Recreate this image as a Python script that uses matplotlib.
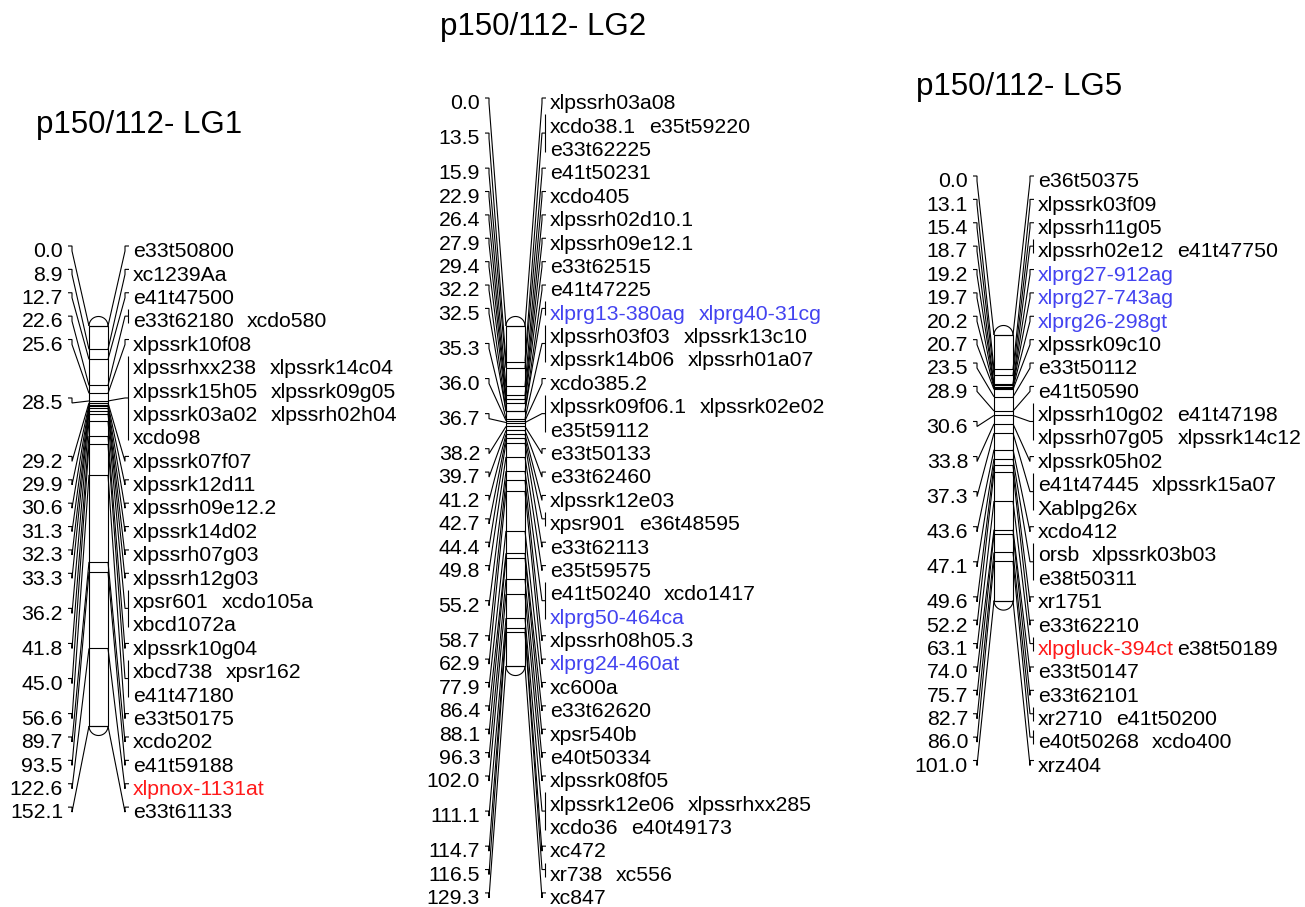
import numpy as np
import matplotlib
matplotlib.use("Agg")
import matplotlib.pyplot as plt
from matplotlib.patches import Rectangle

plt.rcParams['font.family'] = ['Liberation Sans', 'DejaVu Sans']

# ---------------- data ----------------
lg1_title = "p150/112- LG1"
lg1_pos = [0.0, 8.9, 12.7, 22.6, 25.6, 28.5, 29.2, 29.9, 30.6, 31.3, 32.3, 33.3,
           36.2, 41.8, 45.0, 56.6, 89.7, 93.5, 122.6, 152.1]
lg1_markers = [
    ["e33t50800"], ["xc1239Aa"], ["e41t47500"], ["e33t62180", "xcdo580"],
    ["xlpssrk10f08"],
    ["xlpssrhxx238", "xlpssrk14c04", "xlpssrk15h05", "xlpssrk09g05",
     "xlpssrk03a02", "xlpssrh02h04", "xcdo98"],
    ["xlpssrk07f07"], ["xlpssrk12d11"], ["xlpssrh09e12.2"], ["xlpssrk14d02"],
    ["xlpssrh07g03"], ["xlpssrh12g03"], ["xpsr601", "xcdo105a", "xbcd1072a"],
    ["xlpssrk10g04"], ["xbcd738", "xpsr162", "e41t47180"], ["e33t50175"],
    ["xcdo202"], ["e41t59188"], ["xlpnox-1131at"], ["e33t61133"],
]

lg2_title = "p150/112- LG2"
lg2_pos = [0.0, 13.5, 15.9, 22.9, 26.4, 27.9, 29.4, 32.2, 32.5, 35.3, 36.0, 36.7,
           38.2, 39.7, 41.2, 42.7, 44.4, 49.8, 55.2, 58.7, 62.9, 77.9, 86.4, 88.1,
           96.3, 102.0, 111.1, 114.7, 116.5, 129.3]
lg2_markers = [
    ["xlpssrh03a08"], ["xcdo38.1", "e35t59220", "e33t62225"], ["e41t50231"],
    ["xcdo405"], ["xlpssrh02d10.1"], ["xlpssrh09e12.1"], ["e33t62515"],
    ["e41t47225"], ["xlprg13-380ag", "xlprg40-31cg"],
    ["xlpssrh03f03", "xlpssrk13c10", "xlpssrk14b06", "xlpssrh01a07"],
    ["xcdo385.2"], ["xlpssrk09f06.1", "xlpssrk02e02", "e35t59112"],
    ["e33t50133"], ["e33t62460"], ["xlpssrk12e03"], ["xpsr901", "e36t48595"],
    ["e33t62113"], ["e35t59575"], ["e41t50240", "xcdo1417", "xlprg50-464ca"],
    ["xlpssrh08h05.3"], ["xlprg24-460at"], ["xc600a"], ["e33t62620"],
    ["xpsr540b"], ["e40t50334"], ["xlpssrk08f05"],
    ["xlpssrk12e06", "xlpssrhxx285", "xcdo36", "e40t49173"], ["xc472"],
    ["xr738", "xc556"], ["xc847"],
]

lg5_title = "p150/112- LG5"
lg5_pos = [0.0, 13.1, 15.4, 18.7, 19.2, 19.7, 20.2, 20.7, 23.5, 28.9, 30.6, 33.8,
           37.3, 43.6, 47.1, 49.6, 52.2, 63.1, 74.0, 75.7, 82.7, 86.0, 101.0]
lg5_markers = [
    ["e36t50375"], ["xlpssrk03f09"], ["xlpssrh11g05"], ["xlpssrh02e12", "e41t47750"],
    ["xlprg27-912ag"], ["xlprg27-743ag"], ["xlprg26-298gt"], ["xlpssrk09c10"],
    ["e33t50112"], ["e41t50590"],
    ["xlpssrh10g02", "e41t47198", "xlpssrh07g05", "xlpssrk14c12"],
    ["xlpssrk05h02"], ["e41t47445", "xlpssrk15a07", "Xablpg26x"], ["xcdo412"],
    ["orsb", "xlpssrk03b03", "e38t50311"], ["xr1751"], ["e33t62210"],
    ["xlpgluck-394ct", "e38t50189"], ["e33t50147"], ["e33t62101"],
    ["xr2710", "e41t50200"], ["e40t50268", "xcdo400"], ["xrz404"],
]

blue_markers = ["xlprg13-380ag", "xlprg40-31cg", "xlprg50-464ca", "xlprg24-460at",
                "xlprg27-912ag", "xlprg27-743ag", "xlprg26-298gt"]
red_markers = ["xlpnox-1131at", "xlpgluck-394ct"]

# ---------------- style / layout ----------------
W, H = 1305, 907
SCALE = 400.0 / 152.1      # px per cM
DY = 23.38                 # label row spacing (px)
BW = 19                    # bar width (px)
FS = 15.3
TFS = 22.5
LW = 0.8
BLUE = "#4343f0"
RED = "#ff1a1a"

layouts = [
    dict(title=lg1_title, pos=lg1_pos, markers=lg1_markers,
         bar_left=89, bar_top=326, row0=250, tx=36, ty=133),
    dict(title=lg2_title, pos=lg2_pos, markers=lg2_markers,
         bar_left=506, bar_top=326, row0=102, tx=440, ty=35),
    dict(title=lg5_title, pos=lg5_pos, markers=lg5_markers,
         bar_left=994, bar_top=335, row0=180, tx=916, ty=95),
]

fig = plt.figure(figsize=(W / 100, H / 100), dpi=100)
ax = fig.add_axes([0, 0, 1, 1])
ax.set_xlim(0, W)
ax.set_ylim(H, 0)
ax.axis("off")
renderer = fig.canvas.get_renderer()
inv = ax.transData.inverted()


def color_of(name):
    if name in blue_markers:
        return BLUE
    if name in red_markers:
        return RED
    return "black"


def line(xs, ys):
    ax.plot(xs, ys, color="black", lw=LW, solid_capstyle="butt",
            solid_joinstyle="miter")


def draw_lg(title, pos, markers, bar_left, bar_top, row0, tx, ty):
    br = bar_left + BW
    # rows of at most two markers
    rows = []
    for gi, ms in enumerate(markers):
        for k in range(0, len(ms), 2):
            rows.append((gi, ms[k:k + 2]))
    row_y = [row0 + i * DY for i in range(len(rows))]
    g_rows = {gi: [] for gi in range(len(pos))}
    for i, (gi, _) in enumerate(rows):
        g_rows[gi].append(row_y[i])

    # chromosome bar
    y_end = bar_top + max(pos) * SCALE
    ax.add_patch(Rectangle((bar_left, bar_top), BW, y_end - bar_top,
                           fill=False, lw=LW, ec="black"))
    cx = bar_left + BW / 2
    r = BW / 2
    th = np.linspace(np.pi, 2 * np.pi, 60)
    line(cx + r * np.cos(th), bar_top + r * np.sin(th))
    th = np.linspace(0, np.pi, 60)
    line(cx + r * np.cos(th), y_end + r * np.sin(th))
    for p in pos:
        yb = bar_top + p * SCALE
        line([bar_left, br], [yb, yb])

    # title
    ax.text(tx, ty, title, fontsize=TFS, ha="left", va="baseline")

    # left position labels + connectors
    for gi, p in enumerate(pos):
        ys = g_rows[gi]
        cy = float(np.mean(ys))
        yb = bar_top + p * SCALE
        ax.text(bar_left - 26, cy + 7.3, f"{p:.1f}", fontsize=FS,
                ha="right", va="baseline")
        line([bar_left - 21, bar_left - 17, bar_left - 17, bar_left],
             [cy - 4, cy - 4, cy + 1, yb])

        # right connectors
        n = len(markers[gi])
        if n == 1:
            line([br, br + 17, br + 17, br + 21], [yb, cy + 1, cy - 4, cy - 4])
        else:
            top = ys[0] - 11
            bot = ys[-1] + 3
            mid = (top + bot) / 2
            line([br, br + 17, br + 20], [yb, mid, mid])
            line([br + 20, br + 20], [top, bot])

    # marker names
    for i, (gi, names) in enumerate(rows):
        y = row_y[i] + 7.3
        x = bar_left + 44
        prev = None
        for name in names:
            if prev is not None:
                bb = prev.get_window_extent(renderer=renderer)
                x1 = inv.transform((bb.x1, bb.y0))[0]
                gap = 3 if prev.get_text() in red_markers else 13
                x = x1 + gap
            prev = ax.text(x, y, name, fontsize=FS, ha="left", va="baseline",
                           color=color_of(name))


for L in layouts:
    draw_lg(**L)

fig.savefig("out.png", dpi=100)
